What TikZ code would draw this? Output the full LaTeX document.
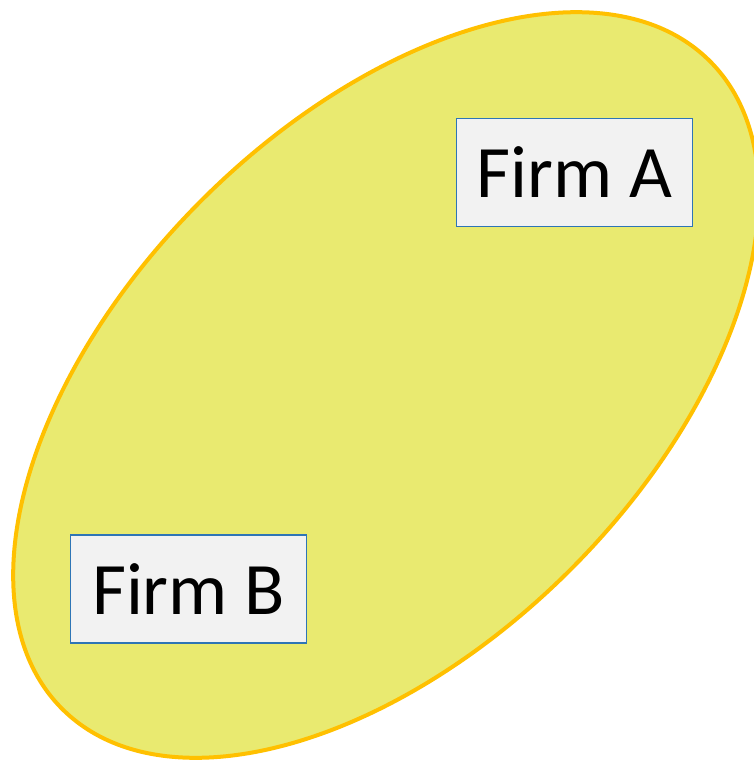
\documentclass[tikz,border=0pt]{standalone}
\usepackage{fontspec}
\setmainfont{Carlito}
\definecolor{ellfill}{HTML}{E9EA70}
\definecolor{ellline}{HTML}{FFC000}
\definecolor{boxline}{HTML}{2E75B6}
\definecolor{boxfill}{HTML}{F2F2F2}
\tikzset{
  firmbox/.style={draw=boxline, line width=1.5pt, fill=boxfill, minimum width=236pt, minimum height=108pt, inner sep=0pt, font=\fontsize{74}{80}\selectfont, text=black}
}
\begin{document}
\begin{tikzpicture}[x=1pt,y=-1pt]
\useasboundingbox (0,0) rectangle (754,763);
\clip (0,0) rectangle (754,763);
\draw[ellline, line width=4pt, fill=ellfill, rotate around={45:(386,385)}] (386,385) ellipse [x radius=458, y radius=261];
\node[firmbox] (A) at (574.5,172.5) {Firm A};
\node[firmbox] (B) at (188.5,589) {Firm B};
\end{tikzpicture}
\end{document}
